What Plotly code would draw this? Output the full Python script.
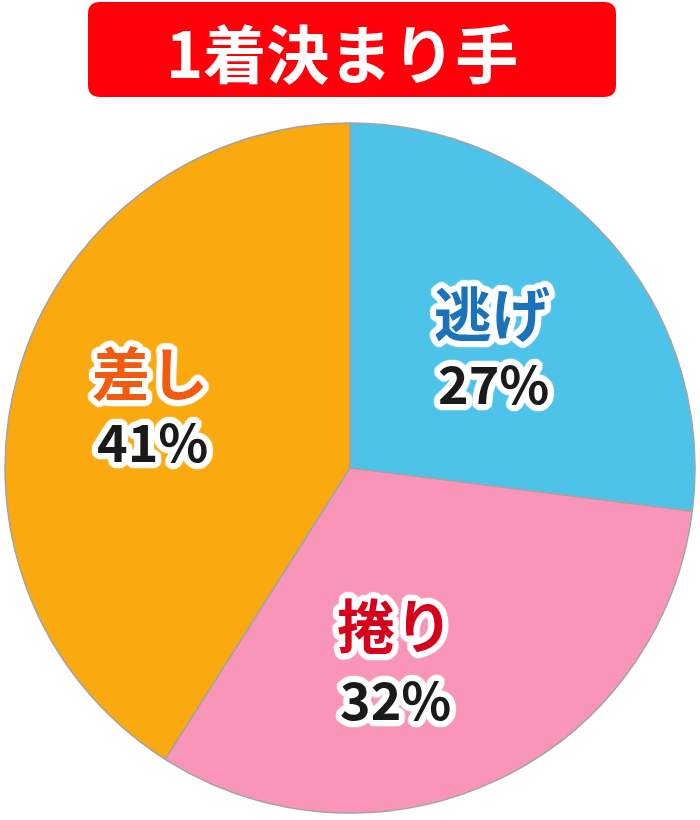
import math
import plotly.graph_objects as go

# data
labels = ['逃げ', '捲り', '差し']
values = [27, 32, 41]

# styles
slice_colors = ['#4EC3EA', '#F995B9', '#FAA90F']
label_colors = ['#1A72B8', '#D6001C', '#F25A0E']
# where the name and the percentage of each slice sit, in page pixels
name_pos = [(492, 311), (395, 623), (150, 371)]
pct_pos = [(493, 381), (395, 697), (152, 439)]

W, H = 700, 820


def px(x, y):
    return x / W, 1 - y / H


# white outline round the labels, made of text-shadows on a ring
ring = []
for rad in (6, 3):
    for k in range(24):
        a = 2 * math.pi * k / 24
        ring.append(f'{rad * math.cos(a):.1f}px {rad * math.sin(a):.1f}px 1px #fff')
outline = ', '.join(ring)

fig = go.Figure(go.Pie(
    labels=labels,
    values=values,
    sort=False,
    direction='clockwise',
    rotation=0,
    marker=dict(colors=slice_colors, line=dict(color='#A3A3A3', width=1.5)),
    textinfo='none',
    hoverinfo='label+percent',
    domain=dict(x=[5 / W, 695 / W], y=[1 - 813 / H, 1 - 123 / H]),
    showlegend=False,
))

total = sum(values)
for lab, v, c, npos, ppos in zip(labels, values, label_colors, name_pos, pct_pos):
    ax, ay = px(*npos)
    fig.add_annotation(
        text=lab, x=ax, y=ay, xref='paper', yref='paper', showarrow=False,
        xanchor='center', yanchor='middle',
        font=dict(family='Noto Sans CJK JP', size=58, color=c,
                  weight='bold', shadow=outline))
    ax, ay = px(*ppos)
    fig.add_annotation(
        text=f'{round(100 * v / total)}%', x=ax, y=ay, xref='paper', yref='paper',
        showarrow=False, xanchor='center', yanchor='middle',
        font=dict(family='Noto Sans CJK JP', size=52, color='#1a1a1a',
                  weight='bold', shadow=outline))

# red rounded title box
x0, y1 = px(88, 2)
x1, y0 = px(616, 97)
r = 12
rx, ry = r / W, r / H
path = (f'M {x0 + rx},{y0} L {x1 - rx},{y0} Q {x1},{y0} {x1},{y0 + ry} '
        f'L {x1},{y1 - ry} Q {x1},{y1} {x1 - rx},{y1} L {x0 + rx},{y1} '
        f'Q {x0},{y1} {x0},{y1 - ry} L {x0},{y0 + ry} Q {x0},{y0} {x0 + rx},{y0} Z')
fig.add_shape(type='path', path=path, xref='paper', yref='paper',
              fillcolor='#FF000A', line=dict(width=0))

tx, ty = px(342, 50)
fig.add_annotation(text='1着決まり手', x=tx, y=ty, xref='paper', yref='paper',
                   showarrow=False, xanchor='center', yanchor='middle',
                   font=dict(family='Noto Sans CJK JP', size=63, color='white', weight='bold'))

fig.update_layout(width=W, height=H, margin=dict(l=0, r=0, t=0, b=0),
                  paper_bgcolor='white', plot_bgcolor='white')

# drop the default 8px body margin so the figure fills the window
fig.write_html('out.html', config={'displayModeBar': False},
               post_script="document.body.style.margin='0';")
